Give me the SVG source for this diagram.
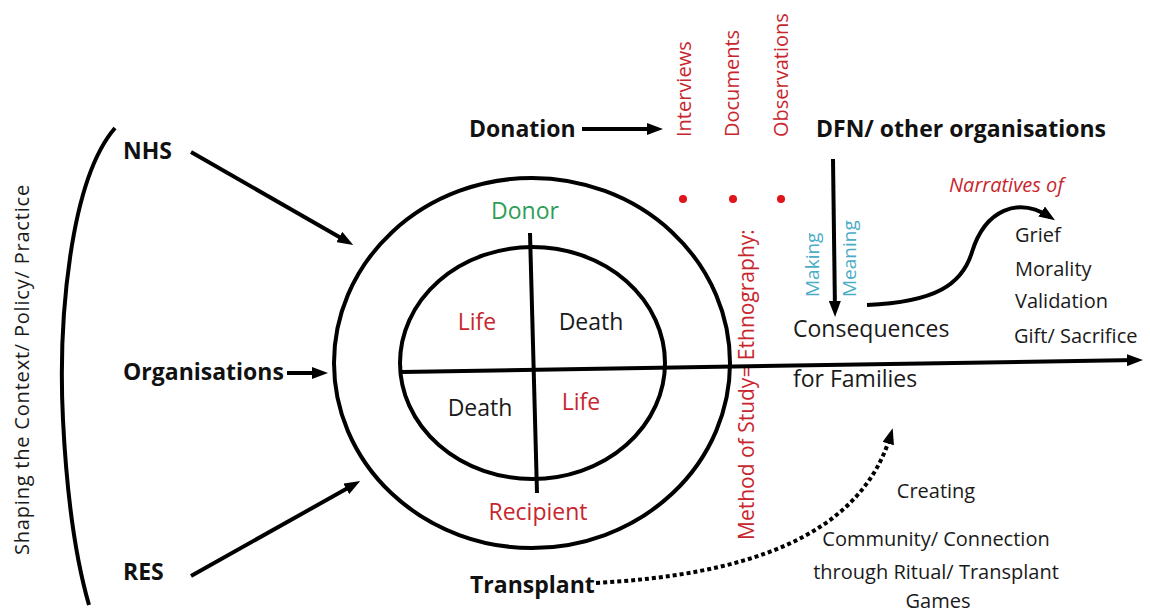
<svg xmlns="http://www.w3.org/2000/svg" width="1150" height="614" viewBox="0 0 1150 614">
<style>
text{font-family:"Open Sans","Noto Sans",sans-serif;fill:#1a1a1a}
.b{font-weight:bold;font-size:23px;fill:#111}
.r{fill:#c8262e}
.t20{font-size:20px}
.t23{font-size:23px}
.ln{stroke:#000;stroke-width:4;fill:none}
.dot{fill:#e0141b}
</style>
<defs>
<marker id="ah" viewBox="0 0 16 12" refX="10" refY="6" markerWidth="16" markerHeight="12" markerUnits="userSpaceOnUse" orient="auto">
<path d="M0,0 L16,6 L0,12 z" fill="#000"/>
</marker>
</defs>
<rect width="1150" height="614" fill="#fff"/>

<g id="context">
<path class="ln" d="M115,128 C70,180 58,320 63,420 C67,500 76,560 89,605"/>
<text class="t20" transform="translate(29,555) rotate(-90)" letter-spacing="0.8">Shaping the Context/ Policy/ Practice</text>
</g>

<g id="nhs"><text class="b" x="123" y="159">NHS</text></g>
<g id="organisations"><text class="b" x="123" y="380">Organisations</text></g>
<g id="res"><text class="b" x="123" y="580">RES</text></g>
<g id="donation"><text class="b" x="469" y="137">Donation</text></g>
<g id="transplant"><text class="b" x="470" y="593">Transplant</text></g>
<g id="dfn"><text class="b" x="816" y="137">DFN/ other organisations</text></g>

<g id="methods">
<text class="r t20" transform="translate(691,137) rotate(-90)">Interviews</text>
<text class="r t20" transform="translate(739,137) rotate(-90)">Documents</text>
<text class="r t20" transform="translate(788,137) rotate(-90)">Observations</text>
<circle class="dot" cx="683" cy="199" r="4"/>
<circle class="dot" cx="733" cy="199" r="4"/>
<circle class="dot" cx="781" cy="199" r="4"/>
<text class="r" font-size="21" transform="translate(754,540) rotate(-90)">Method of Study= Ethnography:</text>
</g>

<g id="circle-model">
<ellipse class="ln" cx="532" cy="363" rx="198" ry="185"/>
<ellipse class="ln" cx="532.5" cy="363" rx="132.5" ry="116"/>
<line class="ln" x1="530" y1="233" x2="537" y2="493"/>
<text class="t23" x="525" y="219" text-anchor="middle" style="fill:#2e9e58">Donor</text>
<text class="t23 r" x="477" y="330" text-anchor="middle">Life</text>
<text class="t23" x="591" y="330" text-anchor="middle">Death</text>
<text class="t23" x="480" y="416" text-anchor="middle">Death</text>
<text class="t23 r" x="581" y="410" text-anchor="middle">Life</text>
<text class="t23 r" x="538" y="520" text-anchor="middle">Recipient</text>
</g>

<g id="making-meaning">
<text font-size="19" transform="translate(819,297) rotate(-90)" style="fill:#4bacc6">Making</text>
<text font-size="19" transform="translate(856,297) rotate(-90)" style="fill:#4bacc6">Meaning</text>
</g>

<g id="consequences">
<text class="t23" x="793" y="337">Consequences</text>
<text class="t23" x="793" y="387">for Families</text>
</g>

<g id="narratives">
<text class="r t20" x="949" y="192" font-style="italic">Narratives of</text>
<text class="t20" x="1015" y="242">Grief</text>
<text class="t20" x="1015" y="276">Morality</text>
<text class="t20" x="1015" y="308">Validation</text>
<text class="t20" x="1014" y="343">Gift/ Sacrifice</text>
</g>

<g id="community">
<text class="t20" x="936" y="498" text-anchor="middle">Creating</text>
<text class="t20" x="936" y="546" text-anchor="middle">Community/ Connection</text>
<text class="t20" x="936" y="579" text-anchor="middle">through Ritual/ Transplant</text>
<text class="t20" x="938" y="608" text-anchor="middle">Games</text>
</g>

<g id="connectors">
<line class="ln" x1="402" y1="372" x2="1137" y2="360" marker-end="url(#ah)"/>
<line class="ln" x1="191" y1="152" x2="348" y2="242" marker-end="url(#ah)"/>
<line class="ln" x1="287" y1="373" x2="322" y2="373" marker-end="url(#ah)"/>
<line class="ln" x1="191" y1="576" x2="355" y2="484" marker-end="url(#ah)"/>
<line class="ln" x1="582" y1="129" x2="657" y2="129" marker-end="url(#ah)"/>
<line class="ln" x1="833" y1="159" x2="835" y2="311" marker-end="url(#ah)"/>
<path class="ln" d="M867,305 C935,302 962,285 972,252 C985,210 1018,196 1050,217" marker-end="url(#ah)"/>
<path class="ln" d="M596,583 C740,575 860,540 891,434" stroke-dasharray="4 3" marker-end="url(#ah)"/>
</g>
</svg>
